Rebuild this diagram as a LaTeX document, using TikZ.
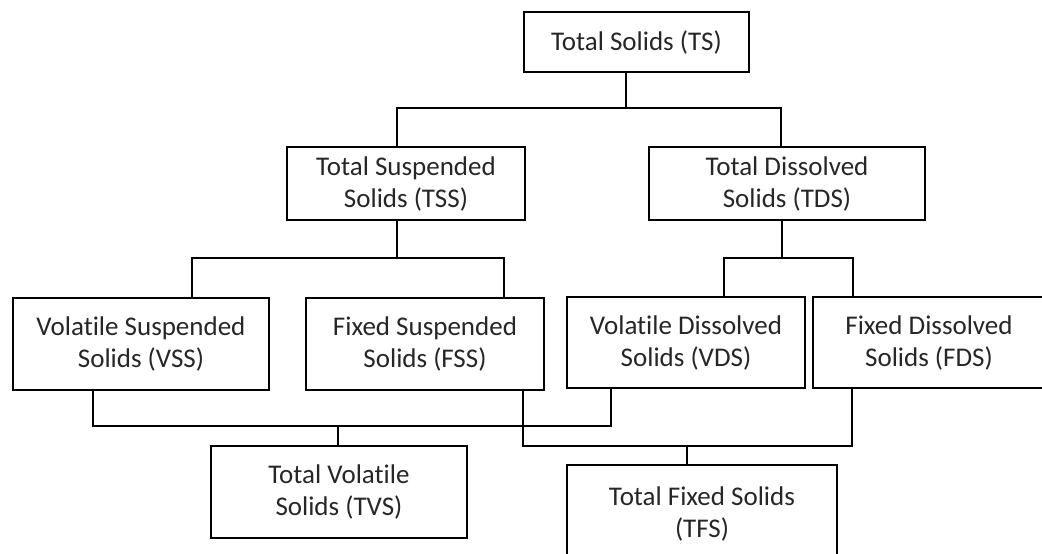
\documentclass[tikz,border=0pt]{standalone}
\usepackage{fontspec}
\setmainfont{Carlito}[Ligatures={NoCommon}]
\definecolor{boxtext}{HTML}{262626}
\begin{document}
\begin{tikzpicture}[x=1pt, y=-1pt,
    solidsbox/.style={draw, line width=1.6, rectangle, align=center, inner sep=0pt,
      text=boxtext, font=\fontsize{27}{32}\selectfont},
    link/.style={line width=1.4}]
      \useasboundingbox (0,0) rectangle (1042,554);
      \clip (0,0) rectangle (1042,554);
      \node (TS) at (636.5,42) [solidsbox, minimum width=225, minimum height=60] {Total Solids (TS)};
      \node (TSS) at (406,183.5) [solidsbox, minimum width=238, minimum height=73] {Total Suspended\\Solids (TSS)};
      \node (TDS) at (787,183.5) [solidsbox, minimum width=276, minimum height=73] {Total Dissolved\\Solids (TDS)};
      \node (VSS) at (141,344) [solidsbox, minimum width=256, minimum height=92] {Volatile Suspended\\Solids (VSS)};
      \node (FSS) at (425,344) [solidsbox, minimum width=238, minimum height=92] {Fixed Suspended\\Solids (FSS)};
      \node (VDS) at (686,342.5) [solidsbox, minimum width=238, minimum height=91] {Volatile Dissolved\\Solids (VDS)};
      \node (FDS) at (929,342.5) [solidsbox, minimum width=232, minimum height=91] {Fixed Dissolved\\Solids (FDS)};
      \node (TVS) at (339,492) [solidsbox, minimum width=256, minimum height=92] {Total Volatile\\Solids (TVS)};
      \node (TFS) at (702,514) [solidsbox, minimum width=270, minimum height=98] {Total Fixed Solids\\(TFS)};
      % junction points
      \coordinate (j0) at (626,108);
      \coordinate (j1) at (397,108);
      \coordinate (j2) at (781,108);
      \coordinate (j3) at (397,258);
      \coordinate (j4) at (192,258);
      \coordinate (j5) at (504,258);
      \coordinate (j6) at (782,258);
      \coordinate (j7) at (724,258);
      \coordinate (j8) at (853,258);
      \coordinate (j9) at (93,426);
      \coordinate (j10) at (611,426);
      \coordinate (j11) at (338,426);
      \coordinate (j12) at (523,446);
      \coordinate (j13) at (852,446);
      \coordinate (j14) at (687,446);
      \draw[link] (TS.south -| j0) -- (j0);
      \draw[link] (TSS.north -| j1) -- (j1) -- (j2) -- (TDS.north -| j2);
      \draw[link] (TSS.south -| j3) -- (j3);
      \draw[link] (VSS.north -| j4) -- (j4) -- (j5) -- (FSS.north -| j5);
      \draw[link] (TDS.south -| j6) -- (j6);
      \draw[link] (VDS.north -| j7) -- (j7) -- (j8) -- (FDS.north -| j8);
      \draw[link] (VSS.south -| j9) -- (j9) -- (j10) -- (VDS.south -| j10);
      \draw[link] (j11) -- (TVS.north -| j11);
      \draw[link] (FSS.south -| j12) -- (j12) -- (j13) -- (FDS.south -| j13);
      \draw[link] (j14) -- (TFS.north -| j14);
    \end{tikzpicture}
\end{document}
